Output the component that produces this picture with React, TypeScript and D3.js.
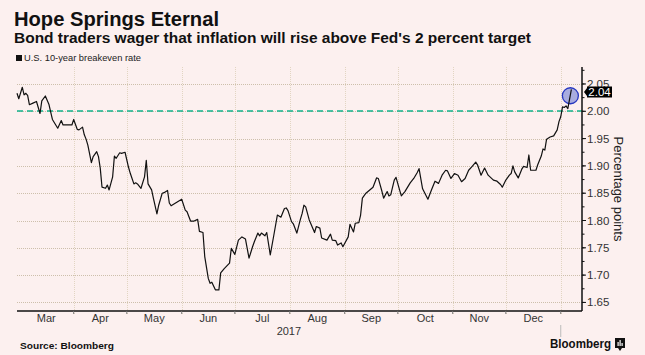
import React from 'react';
import * as d3 from 'd3';

const title = 'Hope Springs Eternal';
const subtitle = "Bond traders wager that inflation will rise above Fed's 2 percent target";
const legendLabel = 'U.S. 10-year breakeven rate';
const axisTitle = 'Percentage points';
const sourceText = 'Source: Bloomberg';
const brandText = 'Bloomberg';
const yearLabel = '2017';
const lastLabel = '2.04';
const targetValue = 2.0;
const yTicks = [1.65, 1.7, 1.75, 1.8, 1.85, 1.9, 1.95, 2.0, 2.05];
const yTickLabels = ['1.65', '1.70', '1.75', '1.80', '1.85', '1.90', '1.95', '2.00', '2.05'];
const monthLabels = ['Mar', 'Apr', 'May', 'Jun', 'Jul', 'Aug', 'Sep', 'Oct', 'Nov', 'Dec'];

const dates = [
  '2017-02-28', '2017-03-01', '2017-03-03', '2017-03-04', '2017-03-05', '2017-03-06', '2017-03-07', '2017-03-09',
  '2017-03-11', '2017-03-13', '2017-03-14', '2017-03-16', '2017-03-18', '2017-03-19', '2017-03-20', '2017-03-23',
  '2017-03-25', '2017-03-26', '2017-03-30', '2017-03-31', '2017-04-01', '2017-04-03', '2017-04-04', '2017-04-06',
  '2017-04-07', '2017-04-08', '2017-04-09', '2017-04-11', '2017-04-12', '2017-04-14', '2017-04-15', '2017-04-16',
  '2017-04-17', '2017-04-19', '2017-04-20', '2017-04-21', '2017-04-23', '2017-04-24', '2017-04-25', '2017-04-27',
  '2017-04-28', '2017-04-30', '2017-05-02', '2017-05-03', '2017-05-05', '2017-05-06', '2017-05-07', '2017-05-09',
  '2017-05-11', '2017-05-12', '2017-05-13', '2017-05-15', '2017-05-16', '2017-05-18', '2017-05-19', '2017-05-21',
  '2017-05-22', '2017-05-24', '2017-05-25', '2017-05-26', '2017-05-29', '2017-06-01', '2017-06-03', '2017-06-04',
  '2017-06-06', '2017-06-08', '2017-06-10', '2017-06-11', '2017-06-13', '2017-06-14', '2017-06-16', '2017-06-17',
  '2017-06-18', '2017-06-20', '2017-06-22', '2017-06-23', '2017-06-25', '2017-06-28', '2017-06-29', '2017-07-01',
  '2017-07-03', '2017-07-05', '2017-07-07', '2017-07-09', '2017-07-11', '2017-07-12', '2017-07-14', '2017-07-15',
  '2017-07-16', '2017-07-18', '2017-07-19', '2017-07-21', '2017-07-23', '2017-07-25', '2017-07-27', '2017-07-29',
  '2017-07-30', '2017-07-31', '2017-08-02', '2017-08-03', '2017-08-05', '2017-08-07', '2017-08-08', '2017-08-09',
  '2017-08-10', '2017-08-12', '2017-08-15', '2017-08-16', '2017-08-18', '2017-08-19', '2017-08-22', '2017-08-24',
  '2017-08-25', '2017-08-27', '2017-08-28', '2017-08-30', '2017-08-31', '2017-09-03', '2017-09-04', '2017-09-06',
  '2017-09-07', '2017-09-09', '2017-09-10', '2017-09-11', '2017-09-13', '2017-09-17', '2017-09-19', '2017-09-20',
  '2017-09-22', '2017-09-23', '2017-09-25', '2017-09-26', '2017-09-27', '2017-09-29', '2017-09-30', '2017-10-02',
  '2017-10-03', '2017-10-05', '2017-10-08', '2017-10-10', '2017-10-12', '2017-10-13', '2017-10-15', '2017-10-18',
  '2017-10-20', '2017-10-22', '2017-10-24', '2017-10-26', '2017-10-28', '2017-10-29', '2017-10-31', '2017-11-02',
  '2017-11-04', '2017-11-06', '2017-11-08', '2017-11-10', '2017-11-12', '2017-11-14', '2017-11-15', '2017-11-17',
  '2017-11-19', '2017-11-21', '2017-11-24', '2017-11-26', '2017-11-28', '2017-11-29', '2017-12-01', '2017-12-03',
  '2017-12-04', '2017-12-05', '2017-12-06', '2017-12-08', '2017-12-10', '2017-12-11', '2017-12-13', '2017-12-14',
  '2017-12-15', '2017-12-18', '2017-12-19', '2017-12-21', '2017-12-22', '2017-12-23', '2017-12-24', '2017-12-26',
  '2017-12-28', '2017-12-30', '2017-12-31', '2018-01-01', '2018-01-02', '2018-01-03', '2018-01-04', '2018-01-05',
  '2018-01-07',
];

const values = [
  2.033, 2.023, 2.044, 2.030, 2.033, 2.029, 2.012, 2.015,
  2.018, 1.996, 2.019, 2.028, 2.013, 1.999, 1.985, 1.969,
  1.983, 1.975, 1.975, 1.975, 1.985, 1.967, 1.966, 1.971,
  1.957, 1.949, 1.938, 1.906, 1.917, 1.926, 1.917, 1.896,
  1.861, 1.859, 1.865, 1.856, 1.880, 1.918, 1.914, 1.924,
  1.923, 1.925, 1.897, 1.886, 1.867, 1.869, 1.867, 1.859,
  1.880, 1.910, 1.867, 1.856, 1.841, 1.812, 1.828, 1.850,
  1.851, 1.855, 1.832, 1.827, 1.833, 1.839, 1.819, 1.816,
  1.799, 1.799, 1.802, 1.780, 1.778, 1.734, 1.694, 1.685,
  1.687, 1.673, 1.673, 1.704, 1.712, 1.722, 1.749, 1.738,
  1.764, 1.770, 1.766, 1.731, 1.752, 1.761, 1.777, 1.772,
  1.777, 1.772, 1.778, 1.737, 1.773, 1.810, 1.806, 1.822,
  1.823, 1.818, 1.798, 1.794, 1.777, 1.802, 1.813, 1.828,
  1.825, 1.801, 1.778, 1.789, 1.786, 1.768, 1.764, 1.775,
  1.764, 1.763, 1.755, 1.759, 1.752, 1.770, 1.793, 1.779,
  1.795, 1.796, 1.810, 1.841, 1.850, 1.861, 1.878, 1.877,
  1.854, 1.841, 1.853, 1.845, 1.847, 1.874, 1.879, 1.856,
  1.845, 1.853, 1.869, 1.877, 1.888, 1.895, 1.858, 1.839,
  1.856, 1.872, 1.868, 1.883, 1.892, 1.891, 1.877, 1.886,
  1.883, 1.871, 1.877, 1.892, 1.899, 1.907, 1.902, 1.883,
  1.896, 1.883, 1.874, 1.872, 1.866, 1.861, 1.874, 1.883,
  1.886, 1.900, 1.889, 1.878, 1.894, 1.899, 1.897, 1.920,
  1.892, 1.892, 1.902, 1.918, 1.931, 1.929, 1.949, 1.953,
  1.955, 1.966, 1.981, 1.990, 2.008, 2.007, 2.010, 2.005,
  2.040,
];

const W = 645;
const H = 355;
const BG = '#fcf0ef';
const FONT = '"Liberation Sans", Arial, sans-serif';

export default function App() {
  const parse = d3.timeParse('%Y-%m-%d');
  const data = dates.map((d, i) => ({ date: parse(d) as Date, value: values[i] }));

  const left = 17;
  const right = 582;
  const top = 67;
  const bottom = 311;

  const x = d3.scaleTime().domain([new Date(2017, 1, 28), new Date(2018, 0, 13)]).range([left, right]);
  const y = d3.scaleLinear().domain([1.6343, 2.0811]).range([bottom, top]);

  const line = d3.line<{ date: Date; value: number }>()
    .x((d) => x(d.date))
    .y((d) => y(d.value));

  const monthStarts = d3.timeMonth.range(new Date(2017, 2, 1), new Date(2018, 0, 2));
  const gridMonths = monthStarts.filter((m) => m > new Date(2017, 2, 1));
  const yearEnd = new Date(2018, 0, 1);

  const minorTicks = d3.range(0, 19).map((i) => 1.65 + i * 0.025).filter((v) => y(v) >= top);

  const last = data[data.length - 1];
  const lx = x(last.date);
  const ly = y(last.value);
  const labelCy = ly + 2.5;

  return (
    <svg
      width={W}
      height={H}
      viewBox={`0 0 ${W} ${H}`}
      style={{ position: 'absolute', left: 0, top: 0, display: 'block' }}
      fontFamily={FONT}
    >
      <rect x={0} y={0} width={W} height={H} fill={BG} />

      <text x={14} y={26} fontSize={20} fontWeight="bold" fill="#111" textLength={205} lengthAdjust="spacingAndGlyphs">
        {title}
      </text>
      <text x={14} y={43} fontSize={14} fontWeight="bold" fill="#111" textLength={517} lengthAdjust="spacingAndGlyphs">
        {subtitle}
      </text>

      <rect x={16} y={55} width={6} height={6} fill="#111" />
      <text x={24} y={61} fontSize={9.5} fill="#222" textLength={117} lengthAdjust="spacingAndGlyphs">
        {legendLabel}
      </text>

      {/* vertical grid */}
      {gridMonths.map((m, i) => (
        <line
          key={'vg' + i}
          x1={Math.round(x(m)) + 0.5}
          x2={Math.round(x(m)) + 0.5}
          y1={top}
          y2={bottom + 3}
          stroke="#e2d5c2"
          strokeWidth={1}
          strokeDasharray="1,1"
        />
      ))}

      {/* horizontal grid */}
      {yTicks.map((t, i) => (
        <line
          key={'hg' + i}
          x1={left}
          x2={right}
          y1={Math.round(y(t)) + 0.5}
          y2={Math.round(y(t)) + 0.5}
          stroke="#cdbfab"
          strokeWidth={1}
          strokeDasharray="1,1"
        />
      ))}

      {/* target dashed line */}
      <line
        x1={left}
        x2={right}
        y1={Math.round(y(targetValue))}
        y2={Math.round(y(targetValue))}
        stroke="#12b38c"
        strokeWidth={1.5}
        strokeDasharray="6,4"
      />

      {/* highlight circle */}
      <circle cx={lx - 1} cy={ly + 6.3} r={8} fill="#a8acdf" stroke="#2536c0" strokeWidth={1.3} />

      {/* data line */}
      <path d={line(data) || ''} fill="none" stroke="#111" strokeWidth={1.2} strokeLinejoin="round" />

      {/* bottom axis */}
      <line x1={left} x2={right} y1={bottom} y2={bottom} stroke="#111" strokeWidth={1.5} />
      {gridMonths.map((m, i) => (
        <line key={'bt' + i} x1={x(m)} x2={x(m)} y1={bottom} y2={bottom + 3} stroke="#777" strokeWidth={1} />
      ))}
      {monthLabels.map((lab, i) => {
        const cx = (x(monthStarts[i]) + x(d3.timeMonth.offset(monthStarts[i], 1))) / 2;
        return (
          <text key={'ml' + i} x={cx} y={322} fontSize={11} textAnchor="middle" fill="#333">
            {lab}
          </text>
        );
      })}
      <line x1={x(yearEnd)} x2={x(yearEnd)} y1={325} y2={337} stroke="#bbb" strokeWidth={1} />
      <text x={(left + x(yearEnd)) / 2} y={335} fontSize={11} textAnchor="middle" fill="#333">
        {yearLabel}
      </text>

      {/* right axis */}
      <line x1={right} x2={right} y1={top} y2={bottom} stroke="#111" strokeWidth={1.5} />
      {minorTicks.map((t, i) => (
        <line key={'mt' + i} x1={right} x2={right + 2.5} y1={y(t)} y2={y(t)} stroke="#111" strokeWidth={1} />
      ))}
      {yTicks.map((t, i) => (
        <line key={'yt' + i} x1={right} x2={right + 4} y1={y(t)} y2={y(t)} stroke="#111" strokeWidth={1} />
      ))}
      {yTicks.map((t, i) => (
        <text key={'yl' + i} x={587} y={y(t) + 4} fontSize={11.5} fill="#333">
          {yTickLabels[i]}
        </text>
      ))}
      <text
        transform={`translate(614, ${(top + bottom) / 2}) rotate(90)`}
        fontSize={13}
        textAnchor="middle"
        fill="#222"
      >
        {axisTitle}
      </text>

      {/* last value label */}
      <path
        d={`M${right + 2},${labelCy} L${right + 5},${labelCy - 4} L${right + 5},${labelCy - 5.5} L${right + 30},${labelCy - 5.5} L${right + 30},${labelCy + 5.5} L${right + 5},${labelCy + 5.5} L${right + 5},${labelCy + 4} Z`}
        fill="#000"
      />
      <text x={right + 17.5} y={labelCy + 4} fontSize={11.5} textAnchor="middle" fill="#fff">
        {lastLabel}
      </text>

      {/* footer */}
      <text x={20} y={349} fontSize={9.5} fontWeight="bold" fill="#111" textLength={94} lengthAdjust="spacingAndGlyphs">
        {sourceText}
      </text>
      <text x={550} y={348} fontSize={12.5} fontWeight="bold" fill="#111" textLength={61} lengthAdjust="spacingAndGlyphs">
        {brandText}
      </text>
      <rect x={615} y={338} width={10} height={10} fill="#111" />
      <rect x={617.5} y={342} width={1.2} height={4} fill="#fff" />
      <rect x={619.5} y={340} width={1.2} height={6} fill="#fff" />
      <rect x={621.5} y={343} width={1.2} height={3} fill="#fff" />
      <path d="M618,348 L620,351 L622,348 Z" fill="#111" />
    </svg>
  );
}
